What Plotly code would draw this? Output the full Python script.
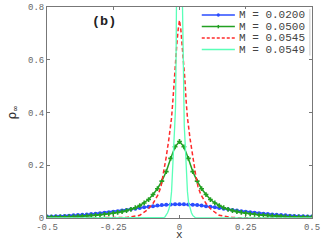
import plotly.graph_objects as go

# --- data ---
x_grid = [round(-0.5 + i / 60, 5) for i in range(61)]

# half profiles (|x| = i/60, i = 0..30)
blue_half = [0.052, 0.052, 0.051, 0.050, 0.049, 0.047, 0.045, 0.043, 0.041, 0.038,
             0.035, 0.033, 0.030, 0.028, 0.026, 0.024, 0.022, 0.020, 0.018, 0.016,
             0.015, 0.013, 0.012, 0.011, 0.010, 0.009, 0.008, 0.007, 0.0065, 0.006, 0.0055]
green_half = [0.290, 0.270, 0.226, 0.176, 0.140, 0.111, 0.089, 0.070, 0.057, 0.047,
              0.039, 0.033, 0.028, 0.024, 0.021, 0.018, 0.016, 0.014, 0.012, 0.0105,
              0.009, 0.008, 0.007, 0.006, 0.0055, 0.005, 0.0045, 0.004, 0.0035, 0.003, 0.003]
blue_y = blue_half[::-1] + blue_half[1:]
green_y = green_half[::-1] + green_half[1:]

red_x = [-0.5, -0.4, -0.3, -0.25, -0.2, -0.15, -0.12, -0.1, -0.08, -0.07, -0.06, -0.05,
         -0.04, -0.03, -0.025, -0.02, -0.015, -0.01, -0.005, 0.0,
         0.005, 0.01, 0.015, 0.02, 0.025, 0.03, 0.04, 0.05, 0.06, 0.07, 0.08, 0.1,
         0.12, 0.15, 0.2, 0.25, 0.3, 0.4, 0.5]
red_y = [0.0, 0.0, 0.0, 0.0005, 0.002, 0.01, 0.032, 0.055, 0.09, 0.118, 0.17, 0.232,
         0.30, 0.38, 0.445, 0.53, 0.60, 0.66, 0.715, 0.75,
         0.715, 0.66, 0.60, 0.53, 0.445, 0.38, 0.30, 0.232, 0.17, 0.118, 0.09, 0.055,
         0.032, 0.01, 0.002, 0.0005, 0.0, 0.0, 0.0]

cyan_x = [-0.5, -0.1, -0.065, -0.06, -0.055, -0.05, -0.045, -0.04, -0.034, -0.03, -0.027,
          -0.024, -0.021, -0.018, -0.015, -0.013, -0.011, -0.008, -0.004, 0.0,
          0.004, 0.008, 0.011, 0.013, 0.015, 0.018, 0.021, 0.024, 0.027, 0.03, 0.034,
          0.04, 0.045, 0.05, 0.055, 0.06, 0.065, 0.1, 0.5]
cyan_y = [0.0, 0.0, 0.0, 0.001, 0.004, 0.01, 0.02, 0.033, 0.06, 0.10, 0.15,
          0.22, 0.29, 0.35, 0.42, 0.60, 0.82, 1.4, 2.1, 2.4,
          2.1, 1.4, 0.82, 0.60, 0.42, 0.35, 0.29, 0.22, 0.15, 0.10, 0.06,
          0.033, 0.02, 0.01, 0.004, 0.001, 0.0, 0.0, 0.0]

names = ["M = 0.0200", "M = 0.0500", "M = 0.0545", "M = 0.0549"]
x_ticks = [-0.5, -0.25, 0, 0.25, 0.5]
x_ticklabels = ["-0.5", "-0.25", "0", "0.25", "0.5"]
y_ticks = [0, 0.2, 0.4, 0.6, 0.8]
y_ticklabels = ["0", "0.2", "0.4", "0.6", "0.8"]

BLUE, GREEN, RED, CYAN = "#2a4cff", "#22a022", "#ff2a2a", "#5affb8"

fig = go.Figure()
fig.add_trace(go.Scatter(x=x_grid, y=blue_y, name=names[0], mode="lines+markers",
                         line=dict(color=BLUE, width=1.5),
                         marker=dict(symbol="circle", size=4, color=BLUE)))
fig.add_trace(go.Scatter(x=x_grid, y=green_y, name=names[1], mode="lines+markers",
                         line=dict(color=GREEN, width=1.5),
                         marker=dict(symbol="cross", size=4, color=GREEN)))
fig.add_trace(go.Scatter(x=red_x, y=red_y, name=names[2], mode="lines",
                         line=dict(color=RED, width=1.5, dash="4px,2.5px")))
fig.add_trace(go.Scatter(x=cyan_x, y=cyan_y, name=names[3], mode="lines",
                         line=dict(color=CYAN, width=1.3)))

mono = "Liberation Mono"
axis_common = dict(showline=True, linecolor="#777777", linewidth=1, mirror="ticks",
                   ticks="inside", ticklen=3, tickcolor="#777777", showgrid=False,
                   zeroline=False, automargin=False, layer="below traces",
                   tickfont=dict(family=mono, size=9, color="#666666"))

# --- hand-drawn legend (compact rows like the reference) ---
leg_x0, leg_x1, leg_text_x = 0.584, 0.709, 0.718
leg_rows = [0.962, 0.907, 0.853, 0.798]
leg_colors = [BLUE, GREEN, RED, CYAN]
shapes = [dict(type="rect", xref="paper", yref="paper", x0=0.57, x1=0.992, y0=0.77,
               y1=0.99, fillcolor="white", line=dict(width=0), layer="above"),
          dict(type="line", xref="paper", yref="paper", x0=0.992, x1=0.992, y0=0.77,
               y1=0.99, line=dict(color="#bbbbbb", width=0.8), layer="above")]
annotations = []
for i, (name, col, ry) in enumerate(zip(names, leg_colors, leg_rows)):
    shapes.append(dict(type="line", xref="paper", yref="paper", x0=leg_x0, x1=leg_x1,
                       y0=ry, y1=ry, layer="above",
                       line=dict(color=col, width=1.5,
                                 dash="3px,2px" if i == 2 else "solid")))
    annotations.append(dict(x=leg_text_x, y=ry, xref="paper", yref="paper", text=name,
                            xanchor="left", yanchor="middle", showarrow=False,
                            font=dict(family=mono, size=11, color="#444444")))
xm = (leg_x0 + leg_x1) / 2
shapes.append(dict(type="circle", xref="paper", yref="paper", x0=xm - 0.006, x1=xm + 0.006,
                   y0=leg_rows[0] - 0.008, y1=leg_rows[0] + 0.008, fillcolor=BLUE,
                   line=dict(color=BLUE, width=0), layer="above"))
shapes.append(dict(type="line", xref="paper", yref="paper", x0=xm, x1=xm,
                   y0=leg_rows[1] - 0.008, y1=leg_rows[1] + 0.008,
                   line=dict(color=GREEN, width=1.5), layer="above"))

annotations.append(dict(x=-0.285, y=0.745, xref="x", yref="y", text="<b>(b)</b>",
                        showarrow=False, font=dict(family=mono, size=13.5, color="#222222")))
# axis titles as positioned annotations
annotations.append(dict(x=0, y=0, xref="x", yref="paper", text="x", yanchor="bottom",
                        yshift=-24, showarrow=False, borderpad=0,
                        font=dict(family=mono, size=11, color="#333333")))
annotations.append(dict(x=0, y=0.5, xref="paper", yref="paper", text="ρ<sub>∞</sub>",
                        xanchor="right", yanchor="middle", xshift=-25, textangle=-90,
                        showarrow=False,
                        font=dict(family="DejaVu Sans", size=12, color="#333333")))

fig.update_layout(
    width=323, height=242,
    margin=dict(l=47, r=11, t=7, b=24),
    paper_bgcolor="white", plot_bgcolor="white",
    showlegend=False,
    xaxis=dict(range=[-0.5, 0.5], tickvals=x_ticks, ticktext=x_ticklabels, **axis_common),
    yaxis=dict(range=[0, 0.8], tickvals=y_ticks, ticktext=y_ticklabels, **axis_common),
    shapes=shapes,
    annotations=annotations,
)

fig.write_html("out.html", config={"displayModeBar": False},
               post_script="document.body.style.margin='0';document.body.style.overflow='hidden';")
